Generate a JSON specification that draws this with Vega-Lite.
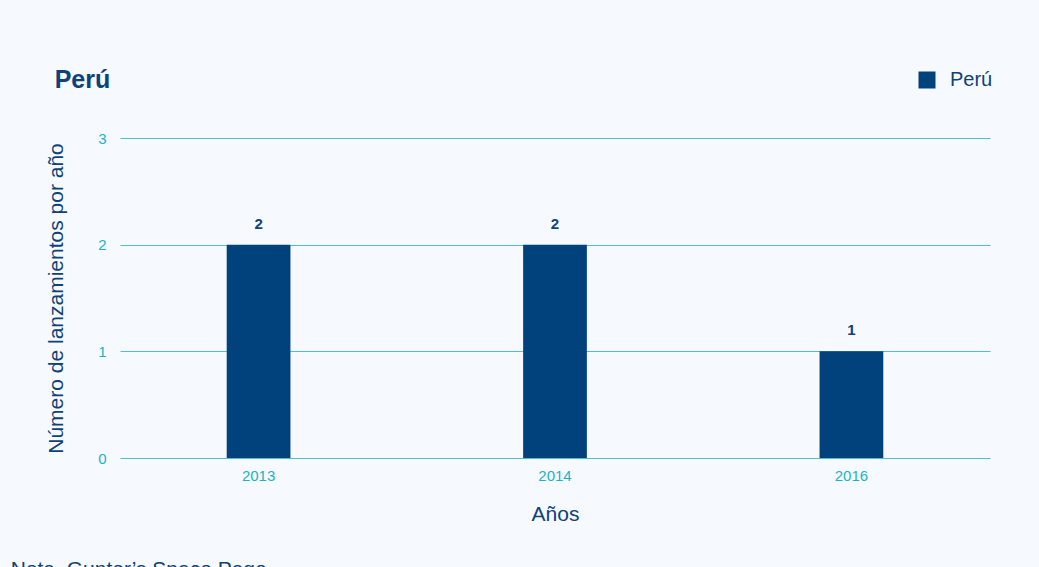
{
  "$schema": "https://vega.github.io/schema/vega-lite/v6.json",
  "background": "#f6fafe",
  "padding": {"left": 10, "top": 68, "right": 60, "bottom": 0},
  "config": {
    "font": "Liberation Sans",
    "view": {"stroke": null},
    "concat": {"spacing": 0}
  },
  "title": {
    "text": "Nota. Gunter’s Space Page",
    "orient": "bottom",
    "anchor": "start",
    "frame": "bounds",
    "dx": -35,
    "offset": 35,
    "fontSize": 21,
    "fontWeight": "normal",
    "color": "#0e4278"
  },
  "vconcat": [
    {
      "width": 870,
      "height": 320,
      "title": {
        "text": "Perú",
        "anchor": "start",
        "frame": "bounds",
        "dx": 9,
        "offset": 38,
        "fontSize": 25,
        "fontWeight": "bold",
        "color": "#0e4278"
      },
      "data": {
        "values": [
          {"anio": "2013", "lanzamientos": 2, "pais": "Perú"},
          {"anio": "2014", "lanzamientos": 2, "pais": "Perú"},
          {"anio": "2016", "lanzamientos": 1, "pais": "Perú"}
        ]
      },
      "encoding": {
        "x": {
          "field": "anio",
          "type": "nominal",
          "scale": {"paddingInner": 0.785, "paddingOuter": 0.36},
          "axis": {
            "title": "Años",
            "labelAngle": 0,
            "domain": false,
            "ticks": false,
            "tickSize": 0,
            "labelPadding": 10,
            "labelFontSize": 15,
            "labelColor": "#1bb2c8",
            "titleFontSize": 21,
            "titleFontWeight": "normal",
            "titleColor": "#0e4278",
            "titlePadding": 20
          }
        },
        "y": {
          "field": "lanzamientos",
          "type": "quantitative",
          "scale": {"domain": [0, 3]},
          "axis": {
            "title": "Número de lanzamientos por año",
            "values": [0, 1, 2, 3],
            "format": "d",
            "domain": false,
            "ticks": false,
            "tickSize": 0,
            "labelPadding": 14,
            "labelFontSize": 15,
            "labelColor": "#1bb2c8",
            "gridColor": "#4cc0cf",
            "gridWidth": 1.2,
            "gridOpacity": 1,
            "titleFontSize": 21,
            "titleFontWeight": "normal",
            "titleColor": "#0e4278",
            "titlePadding": 31
          }
        }
      },
      "layer": [
        {
          "mark": {"type": "bar"},
          "encoding": {
            "color": {
              "field": "pais",
              "type": "nominal",
              "scale": {"range": ["#02427c"]},
              "legend": {
                "title": null,
                "orient": "none",
                "legendX": 797,
                "legendY": -68,
                "padding": 0,
                "symbolType": "square",
                "symbolSize": 289,
                "symbolStrokeWidth": 0,
                "labelFontSize": 20,
                "labelColor": "#0e4278",
                "labelOffset": 13
              }
            }
          }
        },
        {
          "mark": {"type": "text", "dy": -21, "fontSize": 15, "fontWeight": "bold", "color": "#0e4278"},
          "encoding": {
            "text": {"field": "lanzamientos", "type": "quantitative"}
          }
        }
      ]
    }
  ]
}
